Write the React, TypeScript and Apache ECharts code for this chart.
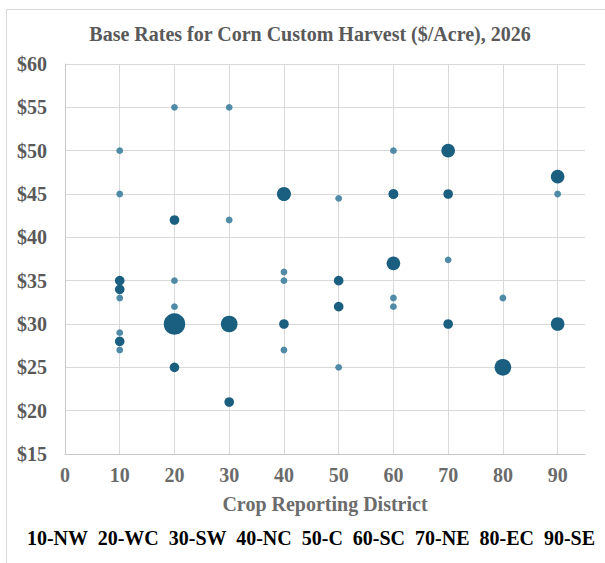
import React, { useEffect, useRef } from "react";
import * as echarts from "echarts";

const districts = [10, 10, 10, 10, 10, 10, 10, 10, 20, 20, 20, 20, 20, 20, 30, 30, 30, 30, 40, 40, 40, 40, 40, 40, 50, 50, 50, 50, 60, 60, 60, 60, 60, 60, 70, 70, 70, 70, 80, 80, 90, 90, 90];
const rates = [50, 45, 35, 34, 33, 29, 28, 27, 55, 42, 35, 32, 30, 25, 55, 42, 30, 21, 45, 36, 35, 30, 27, 45, 44.5, 35, 32, 25, 50, 45, 37, 33, 32, 45, 50, 37.4, 30, 45, 33, 25, 47, 45, 30];
const counts = [1, 1, 2, 2, 1, 1, 2, 1, 1, 2, 1, 1, 10, 2, 1, 1, 6, 2, 4, 1, 1, 2, 1, 4, 1, 2, 2, 1, 1, 2, 4, 1, 1, 2, 4, 1, 2, 2, 1, 6, 4, 1, 4];
const yTicks = { min: 15, max: 60, step: 5 };
const xTicks = { min: 0, max: 95, step: 10 };
const regionLabels = ["10-NW", "20-WC", "30-SW", "40-NC", "50-C", "60-SC", "70-NE", "80-EC", "90-SE"];
const titleText = "Base Rates for Corn Custom Harvest ($/Acre), 2026";
const xAxisTitle = "Crop Reporting District";

const SERIF = "'Liberation Serif', 'Times New Roman', serif";

export default function App() {
  const ref = useRef<HTMLDivElement>(null);
  useEffect(() => {
    if (!ref.current) return;
    const chart = echarts.init(ref.current, undefined, { renderer: "svg" });
    const data = districts.map((d, i) => [d, rates[i], counts[i]]);
    chart.setOption({
      animation: false,
      backgroundColor: "#ffffff",
      grid: { left: 65, right: 20, top: 64, bottom: 109, containLabel: false },
      xAxis: {
        type: "value",
        min: xTicks.min,
        max: xTicks.max,
        interval: xTicks.step,
        axisLine: { show: true, lineStyle: { color: "#c8c8c8", width: 1 } },
        axisTick: { show: false },
        splitLine: { show: true, showMaxLine: false, lineStyle: { color: "#d9d9d9", width: 1 } },
        axisLabel: {
          showMaxLabel: false,
          formatter: (v: number) => (v === xTicks.max ? "" : String(v)),
          fontFamily: SERIF,
          fontWeight: "bold",
          fontSize: 20,
          color: "#6b6b6b",
          margin: 11,
        },
      },
      yAxis: {
        type: "value",
        min: yTicks.min,
        max: yTicks.max,
        interval: yTicks.step,
        axisLine: { show: true, lineStyle: { color: "#c8c8c8", width: 1 } },
        axisTick: { show: false },
        splitLine: { show: true, lineStyle: { color: "#d9d9d9", width: 1 } },
        axisLabel: {
          formatter: (v: number) => "$" + v,
          fontFamily: SERIF,
          fontWeight: "bold",
          fontSize: 20,
          color: "#595959",
          margin: 18,
        },
      },
      graphic: [
        {
          type: "rect",
          shape: { x: 6.5, y: 9.5, width: 700, height: 700 },
          style: { fill: "none", stroke: "#d9d9d9", lineWidth: 1 },
          silent: true,
        },
        {
          type: "text",
          x: 310,
          y: 34,
          style: {
            text: titleText,
            align: "center",
            verticalAlign: "middle",
            font: `bold 20px ${SERIF}`,
            fill: "#595959",
          },
        },
        {
          type: "text",
          x: 325,
          y: 504,
          style: {
            text: xAxisTitle,
            align: "center",
            verticalAlign: "middle",
            font: `bold 20px ${SERIF}`,
            fill: "#6b6b6b",
          },
        },
        {
          type: "text",
          x: 311,
          y: 538,
          style: {
            text: regionLabels.join("  "),
            align: "center",
            verticalAlign: "middle",
            font: `bold 20px ${SERIF}`,
            fill: "#000000",
          },
        },
      ],
      series: [
        {
          type: "scatter",
          data,
          symbol: "circle",
          symbolSize: (val: number[]) => 6.8 * Math.sqrt(val[2]),
          itemStyle: {
            color: (p: any) => (p.data[2] > 1 ? "#1a5f80" : "#4f8aa7"),
            opacity: 1,
          },
        },
      ],
    });
    return () => chart.dispose();
  }, []);
  return (
    <div
      ref={ref}
      style={{ position: "absolute", left: 0, top: 0, width: 605, height: 563, background: "#fff" }}
    />
  );
}
